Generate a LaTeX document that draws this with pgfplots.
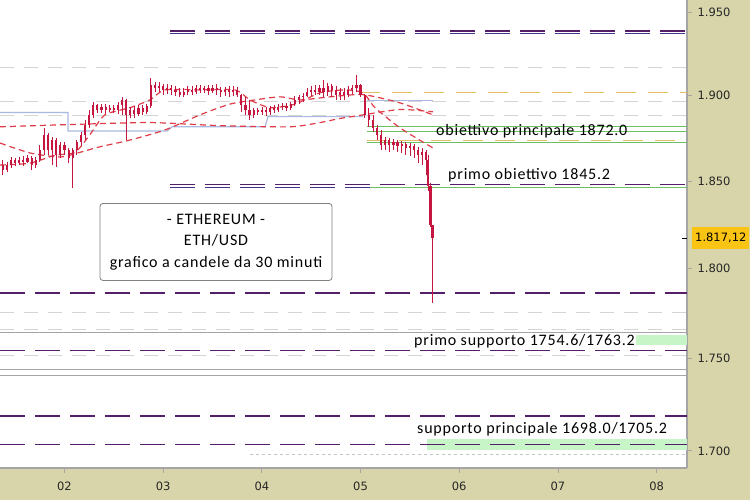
\documentclass[border=0pt]{standalone}
\usepackage{pgfplots}
\pgfplotsset{compat=1.18}
\usepackage{pgfplotstable}
\usepackage{fontspec}
\setmainfont{Carlito}
\newfontfamily\annfont[LetterSpace=5]{Carlito}
\newfontfamily\tickfont{DejaVu Sans}

\definecolor{bgbeige}{RGB}{216,213,170}
\definecolor{candle}{RGB}{196,22,62}
\definecolor{maline}{RGB}{222,60,72}
\definecolor{lvlpurple}{RGB}{84,30,104}
\definecolor{lvlblue}{RGB}{70,50,140}
\definecolor{lvlgold}{RGB}{226,190,100}
\definecolor{lvlgreen}{RGB}{110,190,100}
\definecolor{zonegreen}{RGB}{200,245,200}
\definecolor{stepblue}{RGB}{170,185,225}
\definecolor{gridgray}{RGB}{212,212,212}
\definecolor{solidgray}{RGB}{165,165,165}
\definecolor{tagyellow}{RGB}{250,196,20}

% ETH/USD candles (day of month, open, high, low, close)
\pgfplotstableread{
t o h l c
1.3750 1.8592 1.8622 1.8533 1.8563
1.4167 1.8563 1.8610 1.8551 1.8592
1.4583 1.8592 1.8640 1.8575 1.8622
1.5000 1.8622 1.8634 1.8587 1.8604
1.5417 1.8604 1.8640 1.8592 1.8622
1.5833 1.8622 1.8646 1.8587 1.8610
1.6250 1.8610 1.8651 1.8604 1.8634
1.6667 1.8634 1.8646 1.8563 1.8592
1.7083 1.8592 1.8640 1.8575 1.8622
1.7500 1.8622 1.8711 1.8610 1.8681
1.7917 1.8681 1.8811 1.8651 1.8770
1.8333 1.8770 1.8782 1.8651 1.8681
1.8750 1.8681 1.8758 1.8592 1.8740
1.9167 1.8740 1.8752 1.8581 1.8651
1.9583 1.8651 1.8728 1.8634 1.8711
2.0000 1.8711 1.8728 1.8651 1.8681
2.0417 1.8681 1.8693 1.8604 1.8634
2.0833 1.8634 1.8693 1.8462 1.8681
2.1250 1.8681 1.8740 1.8651 1.8728
2.1667 1.8728 1.8788 1.8705 1.8770
2.2083 1.8770 1.8859 1.8740 1.8829
2.2500 1.8829 1.8918 1.8811 1.8888
2.2917 1.8888 1.8965 1.8870 1.8947
2.3333 1.8947 1.8953 1.8900 1.8918
2.3750 1.8918 1.8953 1.8900 1.8936
2.4167 1.8936 1.8953 1.8894 1.8918
2.4583 1.8918 1.8947 1.8906 1.8930
2.5000 1.8930 1.8947 1.8900 1.8918
2.5417 1.8918 1.8965 1.8894 1.8947
2.5833 1.8947 1.8995 1.8888 1.8977
2.6250 1.8977 1.8983 1.8740 1.8888
2.6667 1.8888 1.8936 1.8870 1.8918
2.7083 1.8918 1.8941 1.8870 1.8894
2.7500 1.8894 1.8947 1.8882 1.8930
2.7917 1.8930 1.8947 1.8888 1.8906
2.8333 1.8906 1.8953 1.8894 1.8941
2.8750 1.8941 1.9107 1.8930 1.9066
2.9167 1.9066 1.9084 1.9024 1.9048
2.9583 1.9048 1.9084 1.9024 1.9060
3.0000 1.9060 1.9072 1.9007 1.9036
3.0417 1.9036 1.9072 1.9013 1.9048
3.0833 1.9048 1.9066 1.9007 1.9036
3.1250 1.9036 1.9060 1.9001 1.9024
3.1667 1.9024 1.9048 1.8989 1.9007
3.2083 1.9007 1.9043 1.8989 1.9024
3.2500 1.9024 1.9060 1.9007 1.9036
3.2917 1.9036 1.9060 1.9007 1.9024
3.3333 1.9024 1.9066 1.9013 1.9048
3.3750 1.9048 1.9066 1.9018 1.9036
3.4167 1.9036 1.9060 1.9018 1.9048
3.4583 1.9048 1.9066 1.9007 1.9031
3.5000 1.9031 1.9066 1.9018 1.9048
3.5417 1.9048 1.9072 1.9007 1.9036
3.5833 1.9036 1.9054 1.8995 1.9024
3.6250 1.9024 1.9054 1.9001 1.9036
3.6667 1.9036 1.9060 1.8989 1.9024
3.7083 1.9024 1.9060 1.9001 1.9036
3.7500 1.9036 1.9054 1.8989 1.9007
3.7917 1.9007 1.9013 1.8906 1.8947
3.8333 1.8947 1.8989 1.8888 1.8918
3.8750 1.8918 1.8977 1.8859 1.8888
3.9167 1.8888 1.8930 1.8870 1.8918
3.9583 1.8918 1.8930 1.8888 1.8906
4.0000 1.8906 1.8936 1.8888 1.8918
4.0417 1.8918 1.8936 1.8882 1.8906
4.0833 1.8906 1.8941 1.8888 1.8930
4.1250 1.8930 1.8947 1.8900 1.8918
4.1667 1.8918 1.8953 1.8906 1.8936
4.2083 1.8936 1.8959 1.8918 1.8941
4.2500 1.8941 1.8959 1.8912 1.8930
4.2917 1.8930 1.8965 1.8918 1.8953
4.3333 1.8953 1.9001 1.8941 1.8977
4.3750 1.8977 1.9007 1.8953 1.8989
4.4167 1.8989 1.9018 1.8965 1.9001
4.4583 1.9001 1.9048 1.8989 1.9024
4.5000 1.9024 1.9060 1.9001 1.9036
4.5417 1.9036 1.9066 1.9007 1.9024
4.5833 1.9024 1.9066 1.9007 1.9048
4.6250 1.9048 1.9095 1.8989 1.9024
4.6667 1.9024 1.9078 1.9001 1.9060
4.7083 1.9060 1.9072 1.8995 1.9036
4.7500 1.9036 1.9060 1.8977 1.9007
4.7917 1.9007 1.9048 1.8977 1.9024
4.8333 1.9024 1.9043 1.8977 1.9007
4.8750 1.9007 1.9060 1.8989 1.9036
4.9167 1.9036 1.9066 1.9013 1.9048
4.9583 1.9048 1.9125 1.9024 1.9066
5.0000 1.9066 1.9072 1.8989 1.9007
5.0417 1.9007 1.9013 1.8870 1.8888
5.0833 1.8888 1.8930 1.8817 1.8859
5.1250 1.8859 1.8888 1.8788 1.8811
5.1667 1.8811 1.8829 1.8740 1.8770
5.2083 1.8770 1.8799 1.8681 1.8711
5.2500 1.8711 1.8758 1.8681 1.8740
5.2917 1.8740 1.8752 1.8669 1.8711
5.3333 1.8711 1.8746 1.8681 1.8728
5.3750 1.8728 1.8740 1.8669 1.8705
5.4167 1.8705 1.8734 1.8663 1.8717
5.4583 1.8717 1.8728 1.8651 1.8693
5.5000 1.8693 1.8722 1.8646 1.8705
5.5417 1.8705 1.8717 1.8634 1.8681
5.5833 1.8681 1.8699 1.8604 1.8651
5.6250 1.8651 1.8693 1.8592 1.8669
5.6667 1.8669 1.8681 1.8533 1.8622
5.6875 1.8622 1.8651 1.8444 1.8474
5.7083 1.8474 1.8486 1.8236 1.8247
5.7292 1.8247 1.8247 1.7807 1.8171
}\candles

\begin{document}
\begin{tikzpicture}
\fill[bgbeige] (0,0) rectangle (750pt,500pt);
\begin{axis}[
    at={(0pt,32pt)}, anchor=south west,
    width=687pt, height=468pt, scale only axis,
    xmin=1.3464, xmax=8.3083,
    ymode=log, ymin=1.6909, ymax=1.9580,
    axis background/.style={fill=white},
    axis x line*=bottom, axis y line*=right,
    axis line style={solidgray, line width=1.5pt},
    clip mode=individual,
    xtick={2,3,4,5,6,7,8},
    xticklabels={02,03,04,05,06,07,08},
    ytick={1.70,1.75,1.80,1.85,1.90,1.95},
    yticklabels={1.700,1.750,1.800,1.850,1.900,1.950},
    tick align=outside, major tick length=5pt,
    tick style={solidgray, line width=0.8pt},
    ticklabel style={font=\tickfont\fontsize{11.5}{13}\selectfont, text=black!85},
    yticklabel style={anchor=west, xshift=2pt},
    xticklabel style={yshift=-6pt},
    lvlp/.style={lvlpurple, line width=1.1pt, dash pattern=on 25pt off 10pt},
    gridd/.style={gridgray, line width=1pt, dash pattern=on 14pt off 10pt},
    ma/.style={maline, line width=1.2pt, dash pattern=on 6pt off 4pt, smooth, tension=0.4},
]
% light grey levels
\addplot[gridd] coordinates {(1.3464,1.9173) (8.3083,1.9173)};
\addplot[gridd] coordinates {(1.3464,1.8964) (8.3083,1.8964)};
\addplot[gridd] coordinates {(1.3464,1.8881) (8.3083,1.8881)};
\addplot[gridd] coordinates {(1.3464,1.7751) (8.3083,1.7751)};
\addplot[gridd] coordinates {(1.3464,1.7656) (8.3083,1.7656)};
\addplot[gridd] coordinates {(1.3464,1.7513) (8.3083,1.7513)};
\addplot[gridgray!80!gray, line width=0.8pt, dash pattern=on 3pt off 3pt] coordinates {(3.880,1.6978) (8.3083,1.6978)};
\addplot[solidgray, line width=1pt] coordinates {(1.3464,1.7640) (8.3083,1.7640)};
\addplot[solidgray, line width=1pt] coordinates {(1.3464,1.7437) (8.3083,1.7437)};
\addplot[solidgray, line width=1pt] coordinates {(1.3464,1.7404) (8.3083,1.7404)};
% support zones
\addplot[fill=zonegreen, draw=none] coordinates {(5.673,1.7574) (8.3083,1.7574) (8.3083,1.7629) (5.673,1.7629)} -- cycle;
\addplot[fill=zonegreen, draw=none] coordinates {(5.673,1.7005) (8.3083,1.7005) (8.3083,1.7064) (5.673,1.7064)} -- cycle;
% purple levels
\addplot[lvlp] coordinates {(3.069,1.9390) (8.3083,1.9390)};
\addplot[lvlp, lvlblue] coordinates {(3.069,1.9377) (8.3083,1.9377)};
\addplot[lvlp] coordinates {(3.069,1.8478) (8.3083,1.8478)};
\addplot[lvlp, lvlblue] coordinates {(3.069,1.8465) (8.3083,1.8465)};
\addplot[lvlp] coordinates {(1.3464,1.7862) (8.3083,1.7862)};
\addplot[lvlp] coordinates {(1.3464,1.7541) (8.3083,1.7541)};
\addplot[lvlp] coordinates {(1.3464,1.7187) (8.3083,1.7187)};
\addplot[lvlp] coordinates {(1.3464,1.7032) (8.3083,1.7032)};
% gold and green levels
\addplot[lvlgold, line width=1pt, dash pattern=on 20pt off 12pt] coordinates {(4.995,1.9023) (8.3083,1.9023)};
\addplot[lvlgold, line width=1pt, dash pattern=on 20pt off 12pt] coordinates {(5.066,1.8734) (8.3083,1.8734)};
\addplot[lvlgreen, line width=1pt] coordinates {(5.066,1.8816) (8.3083,1.8816)};
\addplot[lvlgreen, line width=1pt] coordinates {(5.066,1.8790) (8.3083,1.8790)};
\addplot[lvlgreen, line width=1pt] coordinates {(5.066,1.8725) (8.3083,1.8725)};
\addplot[lvlgreen, line width=1pt] coordinates {(5.096,1.8462) (8.3083,1.8462)};
% blue step line
\addplot[stepblue, line width=1.2pt] coordinates {(1.3464,1.8900) (2.035,1.8900) (2.035,1.8793) (3.039,1.8793) (3.089,1.8817) (4.032,1.8817) (4.062,1.8876) (5.025,1.8876)};
\addplot[stepblue, line width=1.2pt] coordinates {(5.066,1.8971) (5.734,1.8971)};
% moving averages
\addplot[ma] coordinates {(1.346,1.8817) (2.056,1.8829) (2.866,1.8841) (3.576,1.8823) (4.285,1.8817) (4.589,1.8841) (4.792,1.8865) (5.025,1.8888) (5.400,1.8918) (5.734,1.8906)};
\addplot[ma] coordinates {(1.346,1.8722) (1.650,1.8663) (1.954,1.8640) (2.157,1.8669) (2.360,1.8699) (2.664,1.8740) (3.018,1.8799) (3.373,1.8888) (3.677,1.8953) (3.931,1.8977) (4.184,1.8995) (4.387,1.8977) (4.691,1.8995) (5.025,1.9007) (5.400,1.8959) (5.734,1.8888)};
\addplot[ma] coordinates {(1.346,1.8592) (1.650,1.8604) (1.904,1.8651) (2.107,1.8669) (2.258,1.8770) (2.410,1.8888) (2.664,1.8930) (2.866,1.8977) (3.018,1.9036) (3.373,1.9036) (3.728,1.9036) (3.880,1.8977) (4.083,1.8930) (4.336,1.8953) (4.589,1.9018) (4.843,1.9036) (5.025,1.9018) (5.147,1.8930) (5.400,1.8811) (5.734,1.8693)};
% candles: wicks then bodies
\addplot[draw=none, mark=none, error bars/.cd, y dir=plus, y explicit, error mark=none,
    error bar style={draw=candle, line width=0.7pt}]
    table[x=t, y=l, y error plus expr={\thisrow{h}-\thisrow{l}}] {\candles};
\addplot[draw=none, mark=none, error bars/.cd, y dir=plus, y explicit, error mark=none,
    error bar style={draw=candle, line width=2.2pt}]
    table[x=t, y expr={min(\thisrow{o},\thisrow{c})}, y error plus expr={abs(\thisrow{c}-\thisrow{o})}] {\candles};
% annotations
\node[anchor=base west, inner sep=0pt, font=\annfont\fontsize{16}{19}\selectfont]
    at (rel axis cs:0.6346,0.7094) {obiettivo principale 1872.0};
\node[anchor=base west, inner sep=0pt, font=\annfont\fontsize{16}{19}\selectfont]
    at (rel axis cs:0.6521,0.6154) {primo obiettivo 1845.2};
\node[anchor=base west, inner sep=1pt, fill=white, font=\annfont\fontsize{16}{19}\selectfont]
    at (rel axis cs:0.6012,0.2607) {primo supporto 1754.6/1763.2};
\node[anchor=base west, inner sep=0pt, font=\annfont\fontsize{16}{19}\selectfont]
    at (rel axis cs:0.6070,0.0726) {supporto principale 1698.0/1705.2};
\node[draw=gray, line width=0.8pt, rounded corners=3pt, fill=white, align=center,
    minimum width=232pt, minimum height=77pt, font=\annfont\fontsize{16}{21.5}\selectfont]
    at (rel axis cs:0.3144,0.4829) {- ETHEREUM -\\ETH/USD\\grafico a candele da 30 minuti};
% last price tag
\draw[black, line width=1pt] (axis cs:8.3083,1.8171) -- ++(-5pt,0pt);
\node[fill=tagyellow, anchor=west, inner sep=3pt, minimum height=22pt,
    font=\tickfont\fontsize{11.5}{13}\selectfont]
    at (axis cs:8.3083,1.8171) [xshift=5pt] {1.817,12};
\end{axis}
\pgfresetboundingbox
\path[use as bounding box] (0,0) rectangle (750pt,500pt);
\end{tikzpicture}
\end{document}
